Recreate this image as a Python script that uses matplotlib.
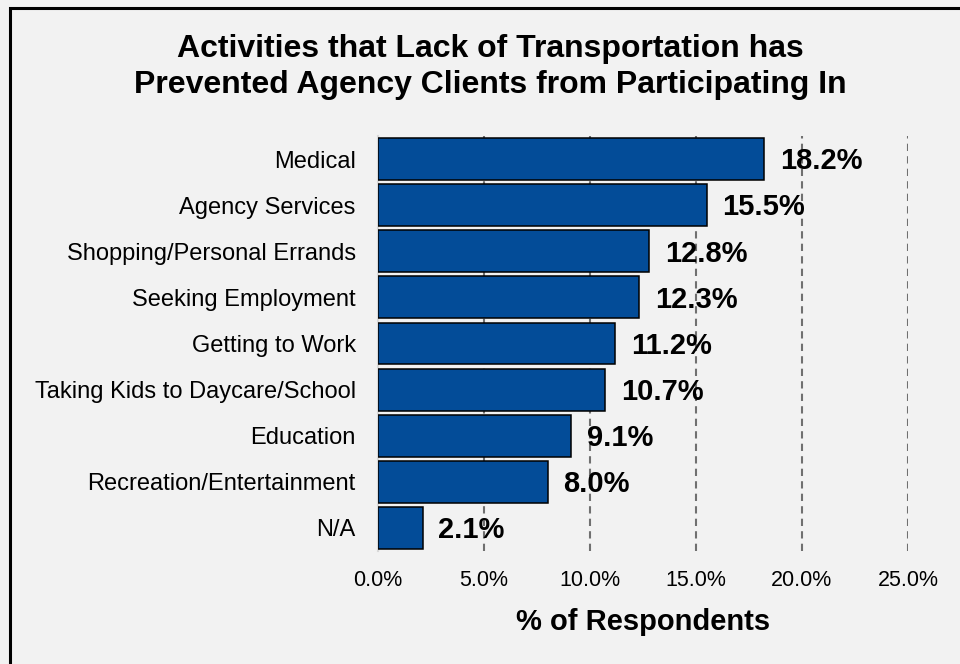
import matplotlib
matplotlib.use("Agg")
import matplotlib.pyplot as plt
from matplotlib.patches import Rectangle
from matplotlib.ticker import FuncFormatter

plt.rcParams['font.family'] = ['Liberation Sans', 'DejaVu Sans']

categories = [
    "Medical",
    "Agency Services",
    "Shopping/Personal Errands",
    "Seeking Employment",
    "Getting to Work",
    "Taking Kids to Daycare/School",
    "Education",
    "Recreation/Entertainment",
    "N/A",
]
values = [18.2, 15.5, 12.8, 12.3, 11.2, 10.7, 9.1, 8.0, 2.1]
x_ticks = [0, 5, 10, 15, 20, 25]

title = "Activities that Lack of Transportation has\nPrevented Agency Clients from Participating In"
xlabel = "% of Respondents"

bg = "#f2f2f2"
bar_color = "#034c98"

fig = plt.figure(figsize=(9.6, 6.64), dpi=100, facecolor=bg)
W, H = 960, 664

# frame around the whole chart area
fig.patches.append(Rectangle((10 / W, -0.1), 1.2, (H - 8) / H + 0.1,
                             transform=fig.transFigure, facecolor="none",
                             edgecolor="black", linewidth=2.2, zorder=0))

ax = fig.add_axes([378 / W, 1 - 551 / H, (908 - 378) / W, (551 - 136) / H])
ax.set_facecolor(bg)

ypos = list(range(len(categories)))
ax.barh(ypos, values, height=0.91, color=bar_color, edgecolor="black",
        linewidth=1.1, zorder=3)

for y, v in zip(ypos, values):
    ax.text(v + 0.75, y + 0.05, f"{v:.1f}%", va="center", ha="left",
            fontsize=21, fontweight="bold", color="black", zorder=4)

ax.set_xlim(0, 25)
ax.set_ylim(len(categories) - 0.5, -0.5)
ax.set_xticks(x_ticks)
ax.xaxis.set_major_formatter(FuncFormatter(lambda v, p: f"{v:.1f}%"))
ax.set_yticks(ypos)
ax.set_yticklabels(categories, fontsize=17)
ax.tick_params(axis="both", length=0, colors="black")
ax.tick_params(axis="x", pad=14, labelsize=15.5)
ax.tick_params(axis="y", pad=16)

ax.grid(axis="x", linestyle=(0, (3.5, 2.5)), color="#707070", linewidth=1.5, zorder=1)
ax.grid(axis="y", visible=False)
for side in ["top", "right", "bottom"]:
    ax.spines[side].set_visible(False)
ax.spines["left"].set_color("#d9d9d9")
ax.spines["left"].set_linewidth(1.5)

ax.set_xlabel(xlabel, fontsize=21, fontweight="bold", labelpad=12)

fig.text(490 / W, 1 - 67 / H, title, ha="center", va="center",
         fontsize=23, fontweight="bold", linespacing=1.3)

fig.savefig("out.png", dpi=100, facecolor=bg)
